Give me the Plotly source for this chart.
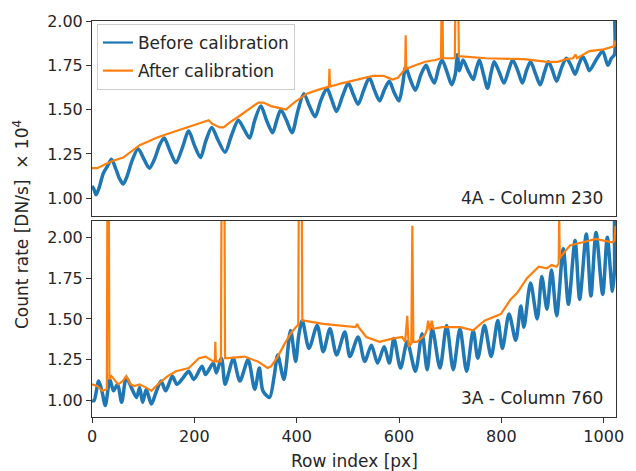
import plotly.graph_objects as go

# ---------------- data (values in units of 10^4 DN/s) ----------------
# Top panel: 4A - Column 230
top_before_rows = [0, 4, 8, 14, 22, 30, 38, 46, 54, 61, 68, 78, 90, 100, 112, 122, 132, 141, 152, 164,
                   176, 189, 200, 212, 222, 234, 246, 260, 272, 286, 297, 308, 318, 330, 341, 353, 360,
                   369, 380, 391, 402, 414, 425, 436, 447, 459, 468, 478, 490, 501, 510, 520, 531, 542,
                   552, 562, 571, 581, 590, 600, 607, 613, 622, 632, 643, 653, 660, 669, 677, 684, 694,
                   703, 710, 714, 718, 725, 735, 745, 751, 757, 765, 773, 780, 786, 796, 805, 814, 822,
                   832, 841, 849, 857, 867, 876, 884, 892, 900, 908, 918, 927, 936, 944, 952, 959, 966,
                   972, 985, 998, 1008, 1015, 1021, 1022, 1023]
top_before = [1.07, 1.05, 1.02, 1.06, 1.14, 1.18, 1.22, 1.17, 1.11, 1.08, 1.12, 1.21, 1.28, 1.23, 1.17,
              1.22, 1.30, 1.34, 1.27, 1.20, 1.28, 1.38, 1.30, 1.23, 1.32, 1.40, 1.33, 1.26, 1.35, 1.44,
              1.39, 1.34, 1.44, 1.52, 1.44, 1.37, 1.43, 1.50, 1.44, 1.37, 1.49, 1.59, 1.52, 1.46, 1.55,
              1.62, 1.56, 1.49, 1.58, 1.65, 1.59, 1.53, 1.61, 1.68, 1.61, 1.55, 1.61, 1.66, 1.60, 1.55,
              1.64, 1.74, 1.67, 1.61, 1.70, 1.75, 1.70, 1.65, 1.73, 1.78, 1.71, 1.64, 1.70, 1.81, 1.72,
              1.78, 1.72, 1.67, 1.73, 1.78, 1.70, 1.62, 1.71, 1.77, 1.71, 1.65, 1.72, 1.78, 1.72, 1.65,
              1.72, 1.77, 1.70, 1.64, 1.71, 1.77, 1.72, 1.66, 1.74, 1.79, 1.75, 1.70, 1.76, 1.80, 1.76,
              1.72, 1.78, 1.83, 1.75, 1.79, 1.81, 2.05, 2.05]

top_after_rows = [0, 10, 25, 40, 61, 75, 93, 110, 125, 144, 165, 189, 210, 228, 235, 250, 257, 270, 286,
                  305, 325, 335, 350, 365, 379, 395, 420, 440, 459, 463, 464, 465, 490, 517, 549, 570,
                  587, 598, 606, 612, 613, 614, 632, 651, 671, 682, 683, 685, 686, 709, 710, 716, 717,
                  722, 770, 844, 889, 910, 927, 940, 945, 948, 972, 1000, 1017, 1021, 1023]
top_after = [1.17, 1.17, 1.19, 1.21, 1.23, 1.26, 1.30, 1.32, 1.34, 1.36, 1.38, 1.40, 1.42, 1.44, 1.42,
             1.40, 1.40, 1.43, 1.46, 1.50, 1.54, 1.54, 1.52, 1.51, 1.50, 1.54, 1.59, 1.61, 1.63, 1.63,
             1.73, 1.63, 1.65, 1.67, 1.69, 1.69, 1.67, 1.68, 1.71, 1.73, 1.92, 1.73, 1.75, 1.77, 1.78,
             1.79, 2.05, 2.05, 1.79, 1.79, 2.05, 2.05, 1.80, 1.80, 1.79, 1.785, 1.77, 1.77, 1.785, 1.79,
             1.81, 1.79, 1.83, 1.84, 1.855, 1.86, 1.89]

# Bottom panel: 3A - Column 760
bot_before_rows = [0, 4, 13, 20, 26, 35, 42, 50, 58, 67, 77, 87, 93, 99, 106, 116, 125, 135, 144, 157,
                   166, 178, 189, 199, 215, 222, 237, 243, 253, 260, 268, 276, 289, 305, 318, 327, 334,
                   347, 356, 363, 375, 388, 398, 404, 411, 424, 440, 452, 465, 478, 494, 504, 520, 533,
                   546, 558, 571, 581, 590, 603, 616, 632, 645, 655, 665, 680, 693, 706, 719, 732, 745,
                   754, 767, 780, 793, 802, 815, 828, 838, 844, 857, 870, 879, 889, 898, 908, 921, 931,
                   944, 953, 966, 975, 985, 998, 1007, 1017, 1021, 1022, 1023]
bot_before = [1.00, 1.00, 1.12, 1.05, 0.97, 1.13, 1.06, 1.10, 0.99, 1.14, 1.08, 1.02, 1.08, 0.99, 1.07,
              0.98, 1.05, 1.12, 1.06, 1.15, 1.10, 1.14, 1.18, 1.13, 1.21, 1.16, 1.23, 1.17, 1.26, 1.10,
              1.18, 1.26, 1.12, 1.25, 1.07, 1.20, 1.06, 1.02, 1.15, 1.28, 1.13, 1.43, 1.24, 1.40, 1.49,
              1.32, 1.46, 1.30, 1.44, 1.28, 1.42, 1.27, 1.39, 1.24, 1.34, 1.23, 1.33, 1.23, 1.38, 1.20,
              1.36, 1.18, 1.41, 1.19, 1.44, 1.20, 1.46, 1.19, 1.44, 1.18, 1.43, 1.26, 1.46, 1.27, 1.49,
              1.32, 1.53, 1.37, 1.58, 1.45, 1.72, 1.50, 1.76, 1.56, 1.80, 1.52, 1.93, 1.59, 1.98, 1.62,
              2.02, 1.64, 2.03, 1.65, 2.00, 1.67, 1.80, 2.15, 2.15]

bot_after_rows = [0, 10, 20, 29, 30, 33, 34, 38, 51, 60, 67, 75, 83, 93, 106, 116, 132, 148, 164, 189,
                  209, 222, 237, 240, 241, 242, 252, 253, 259, 260, 266, 298, 324, 343, 350, 363, 375,
                  388, 401, 403, 404, 410, 411, 414, 452, 484, 515, 518, 521, 536, 562, 587, 606, 612,
                  616, 619, 624, 626, 628, 635, 650, 654, 657, 660, 664, 667, 684, 719, 745, 767, 799,
                  818, 831, 850, 873, 889, 898, 908, 912, 913, 914, 918, 934, 959, 985, 1000, 1017, 1021,
                  1023]
bot_after = [1.10, 1.09, 1.06, 1.07, 2.15, 2.15, 1.13, 1.15, 1.10, 1.12, 1.15, 1.10, 1.09, 1.10, 1.08,
             1.06, 1.11, 1.15, 1.18, 1.20, 1.26, 1.27, 1.24, 1.24, 1.36, 1.24, 1.24, 2.15, 2.15, 1.26,
             1.26, 1.27, 1.24, 1.20, 1.21, 1.27, 1.34, 1.41, 1.46, 1.46, 2.15, 2.15, 1.49, 1.49, 1.47,
             1.46, 1.45, 1.47, 1.45, 1.39, 1.36, 1.38, 1.39, 1.36, 1.52, 1.33, 1.35, 2.07, 1.36, 1.36,
             1.40, 1.43, 1.49, 1.43, 1.49, 1.44, 1.45, 1.45, 1.43, 1.49, 1.53, 1.62, 1.66, 1.75, 1.82,
             1.81, 1.83, 1.82, 1.84, 2.15, 1.87, 1.89, 1.95, 1.97, 1.99, 1.98, 1.97, 1.98, 2.07]

y_ticks = [1.00, 1.25, 1.50, 1.75, 2.00]
y_tick_text = ["1.00", "1.25", "1.50", "1.75", "2.00"]
x_ticks = [0, 200, 400, 600, 800, 1000]
x_tick_text = ["0", "200", "400", "600", "800", "1000"]
series_names = ["Before calibration", "After calibration"]

# ---------------- figure ----------------
BLUE = "#1f77b4"
ORANGE = "#ff7f0e"
FONT = "DejaVu Sans"
INK = "#262626"

fig = go.Figure()
fig.add_trace(go.Scatter(x=top_before_rows, y=top_before, mode="lines", showlegend=False,
                         line=dict(color=BLUE, width=3.5, shape="spline", smoothing=0.8),
                         xaxis="x", yaxis="y"))
fig.add_trace(go.Scatter(x=top_after_rows, y=top_after, mode="lines", showlegend=False,
                         line=dict(color=ORANGE, width=2.2), xaxis="x", yaxis="y"))
fig.add_trace(go.Scatter(x=bot_before_rows, y=bot_before, mode="lines", showlegend=False,
                         line=dict(color=BLUE, width=3.5, shape="spline", smoothing=0.8),
                         xaxis="x2", yaxis="y2"))
fig.add_trace(go.Scatter(x=bot_after_rows, y=bot_after, mode="lines", showlegend=False,
                         line=dict(color=ORANGE, width=2.2), xaxis="x2", yaxis="y2"))
# legend entries (thin sample lines like the reference)
fig.add_trace(go.Scatter(x=[None], y=[None], mode="lines", name=series_names[0],
                         line=dict(color=BLUE, width=2.2), legendgroup="b", xaxis="x", yaxis="y"))
fig.add_trace(go.Scatter(x=[None], y=[None], mode="lines", name=series_names[1],
                         line=dict(color=ORANGE, width=2.2), legendgroup="a", xaxis="x", yaxis="y"))

axis_common = dict(showline=True, mirror=True, linecolor="#333333", linewidth=1.1,
                   showgrid=False, zeroline=False, color=INK,
                   tickfont=dict(family=FONT, size=16, color=INK))

fig.update_layout(
    width=636, height=471,
    margin=dict(l=92, r=13, t=19, b=54),
    paper_bgcolor="white", plot_bgcolor="white",
    font=dict(family=FONT, size=17, color=INK),
    xaxis=dict(domain=[0, 1], anchor="y", range=[0, 1024], showticklabels=False, ticks="",
               **axis_common),
    yaxis=dict(domain=[0.5075, 1], anchor="x", range=[0.9, 2.0], tickvals=y_ticks,
               ticktext=y_tick_text, ticks="outside", ticklen=5, tickcolor="#333333", **axis_common),
    xaxis2=dict(domain=[0, 1], anchor="y2", range=[0, 1024], matches="x", tickvals=x_ticks,
                ticktext=x_tick_text, ticks="outside", ticklen=5, tickcolor="#333333", **axis_common),
    yaxis2=dict(domain=[0, 0.495], anchor="x2", range=[0.9, 2.1], tickvals=y_ticks,
                ticktext=y_tick_text, ticks="outside", ticklen=5, tickcolor="#333333", **axis_common),
    legend=dict(x=0.0094, y=0.9925, xanchor="left", yanchor="top",
                bgcolor="rgba(255,255,255,0.85)", bordercolor="#cccccc", borderwidth=1,
                font=dict(family=FONT, size=17, color=INK), traceorder="grouped",
                tracegroupgap=3),
    showlegend=True,
    annotations=[
        dict(text="4A - Column 230", xref="paper", yref="paper", x=0.979, y=0.553,
             xanchor="right", yanchor="middle", showarrow=False,
             font=dict(family=FONT, size=17, color=INK)),
        dict(text="3A - Column 760", xref="paper", yref="paper", x=0.979, y=0.048,
             xanchor="right", yanchor="middle", showarrow=False,
             font=dict(family=FONT, size=17, color=INK)),
        dict(text="Count rate [DN/s]  × 10<sup>4</sup>", xref="paper", yref="paper",
             x=-0.1356, y=0.487, xanchor="center", yanchor="middle", textangle=-90,
             showarrow=False, font=dict(family=FONT, size=17, color=INK)),
        dict(text="Row index [px]", xref="paper", yref="paper", x=0.5, y=-0.1106,
             xanchor="center", yanchor="middle", showarrow=False,
             font=dict(family=FONT, size=17, color=INK)),
    ],
)

fig.write_html("out.html", config={"displayModeBar": False},
               post_script="document.body.style.margin='0px';")
